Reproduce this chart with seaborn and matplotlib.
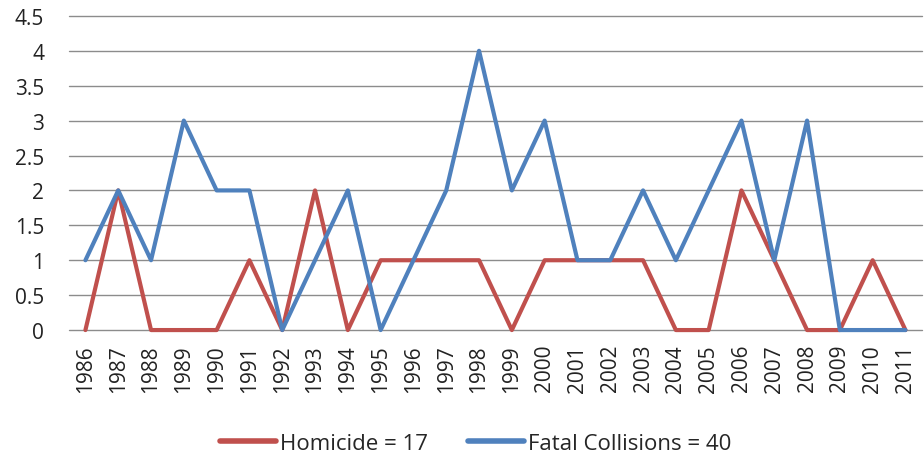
import pandas as pd
import matplotlib.pyplot as plt
import seaborn as sns

years = [str(y) for y in range(1986, 2012)]
homicide = [0, 2, 0, 0, 0, 1, 0, 2, 0, 1, 1, 1, 1, 0, 1, 1, 1, 1, 0, 0, 2, 1, 0, 0, 1, 0]
collisions = [1, 2, 1, 3, 2, 2, 0, 1, 2, 0, 1, 2, 4, 2, 3, 1, 1, 2, 1, 2, 3, 1, 3, 0, 0, 0]
labels = ["Homicide = 17", "Fatal Collisions = 40"]
colors = ["#C0504D", "#4F81BD"]

df = pd.DataFrame({"year": years, labels[0]: homicide, labels[1]: collisions})
long = df.melt(id_vars="year", var_name="series", value_name="count")

sns.set_style("white")
plt.rcParams["font.family"] = ["Open Sans", "DejaVu Sans"]

fig = plt.figure(figsize=(9.24, 4.56), dpi=100)
ax = fig.add_axes([0.0747, 0.274, 0.923, 0.689])

sns.lineplot(data=long, x="year", y="count", hue="series", palette=colors,
             linewidth=3, ax=ax, sort=False, legend=True)
for ln in ax.lines:
    ln.set_clip_on(False)
    ln.set_solid_joinstyle("round")

ax.set_xlim(-0.5, len(years) - 0.5)
ax.set_ylim(0, 4.5)
ax.set_yticks([i * 0.5 for i in range(10)])
ax.set_yticklabels(["0", "0.5", "1", "1.5", "2", "2.5", "3", "3.5", "4", "4.5"])
ax.yaxis.grid(True, color="#8c8c8c", linewidth=1)
for g in ax.get_ygridlines():
    g.set_clip_on(False)
ax.set_axisbelow(True)
for s in ax.spines.values():
    s.set_visible(False)
ax.tick_params(axis="y", length=0, labelsize=15, colors="#222222", pad=18)
ax.tick_params(axis="x", length=0, labelsize=15, colors="#222222", pad=10)
plt.setp(ax.get_xticklabels(), rotation=90)
ax.set_xlabel("")
ax.set_ylabel("")

leg = ax.legend(loc="center", bbox_to_anchor=(0.477, -0.36), ncol=2, frameon=False,
                fontsize=16, handlelength=2.5, handletextpad=0.2, columnspacing=1.8,
                borderpad=0.2)
for h in leg.get_lines():
    h.set_linewidth(4)

fig.savefig("out.png", dpi=100)
